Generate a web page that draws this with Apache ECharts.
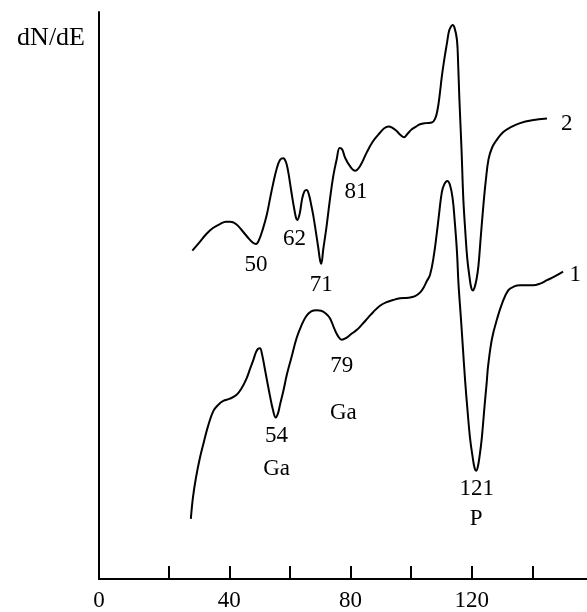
<!DOCTYPE html>
<html>
<head>
<meta charset="utf-8">
<script src="https://cdn.jsdelivr.net/npm/echarts@6/dist/echarts.min.js"></script>
<style>
html,body{margin:0;padding:0;background:#fff;}
#chart{width:587px;height:612px;}
</style>
</head>
<body>
<div id="chart"></div>
<script>
// Energy axis (eV) and arbitrary dN/dE values
// Curve 2 (upper)
var curve2X = [27.8, 30.0, 32.5, 34.6, 36.9, 38.9, 40.2, 42.2, 44.6, 46.5, 47.8, 48.8, 49.8, 51.1, 52.3, 53.4, 54.4, 55.6, 56.7, 57.8,
  58.7, 59.4, 60.0, 60.7, 61.4, 62.0, 62.4, 63.2, 64.0, 64.8, 65.5, 66.3, 67.0, 67.7, 68.5, 69.4, 69.9, 70.3,
  71.0, 72.1, 73.2, 74.3, 75.4, 76.4, 77.2, 78.2, 79.8, 81.5, 83.1, 85.3, 87.4, 89.7, 91.1, 92.5, 93.7, 95.2,
  96.3, 97.7, 98.6, 100.2, 101.6, 102.9, 104.9, 106.8, 107.9, 108.7, 109.4, 110.1, 110.9, 111.8, 112.5, 113.2,
  113.7, 114.3, 115.1, 115.5, 115.9, 116.6, 117.2, 117.9, 118.5, 119.3, 119.8, 120.3, 120.9, 121.6, 122.2,
  122.9, 123.8, 124.6, 125.5, 126.7, 128.3, 130.3, 132.6, 135.9, 139.9, 144.8];
var curve2Y = [57.9, 59.3, 60.9, 61.9, 62.6, 63.0, 63.0, 62.6, 61.2, 60.0, 59.3, 59.1, 59.8, 61.8, 64.1, 67.0, 69.6, 72.3, 73.9, 74.2,
  73.5, 71.9, 69.9, 67.5, 65.3, 63.7, 63.3, 64.4, 67.0, 68.4, 68.6, 67.7, 66.0, 64.1, 61.4, 58.2, 56.3, 55.6,
  58.2, 62.3, 67.0, 71.1, 74.0, 76.0, 75.8, 74.3, 72.8, 72.0, 72.8, 75.2, 77.2, 78.7, 79.5, 79.8, 79.6, 79.0,
  78.4, 77.9, 78.4, 79.3, 79.8, 80.2, 80.4, 80.5, 81.2, 82.8, 85.4, 88.6, 91.6, 94.5, 96.7, 97.5,
  97.7, 97.2, 95.1, 90.7, 84.6, 75.8, 67.0, 60.9, 56.5, 53.0, 51.4, 50.9, 51.4, 53.0, 55.3,
  60.0, 65.8, 70.2, 74.0, 76.1, 77.5, 78.8, 79.6, 80.4, 80.9, 81.2];

// Curve 1 (lower)
var curve1X = [27.3, 28.0, 29.0, 30.3, 31.7, 33.0, 34.7, 36.3, 38.0, 40.2, 42.4, 43.9, 45.7, 46.8, 47.9, 48.8, 49.5, 50.1,
  50.8, 51.6, 52.4, 53.4, 54.4, 55.3, 56.1, 56.7, 57.8, 59.0, 60.4, 62.2, 63.7, 65.3, 67.0, 68.8, 70.3,
  71.9, 73.2, 74.6, 75.9, 77.1, 78.5, 80.2, 82.0, 83.8, 85.8, 87.5, 89.7, 91.7, 94.0, 96.3, 99.0, 101.3,
  102.9, 104.3, 105.2, 106.2, 107.4, 108.5, 109.2, 110.1, 110.9, 111.9, 112.8, 113.7, 114.3, 115.1, 115.6,
  116.4, 117.1, 117.8, 118.6, 119.4, 120.3, 120.9, 121.4, 121.9, 122.6, 123.3, 124.2, 124.9, 125.4, 126.7,
  128.4, 130.0, 132.0, 134.0, 135.9, 140.2, 142.5, 144.8, 147.5, 150.1];
var curve1Y = [10.6, 14.4, 17.9, 21.4, 24.4, 27.0, 29.6, 30.7, 31.4, 31.8, 32.5, 33.5, 35.4, 37.0, 38.6, 40.0, 40.6, 40.7,
  39.6, 37.4, 35.1, 32.3, 29.8, 28.5, 29.3, 30.7, 33.1, 36.1, 38.9, 42.5, 44.6, 46.3, 47.2, 47.4, 47.3,
  46.8, 46.0, 44.2, 42.8, 42.2, 42.5, 43.2, 43.9, 44.9, 46.1, 47.1, 48.2, 48.8, 49.2, 49.5, 49.6, 49.9,
  50.5, 51.6, 52.6, 53.6, 56.8, 61.2, 64.4, 68.2, 69.6, 70.2, 69.5, 67.0, 63.5, 57.7, 52.1,
  46.0, 40.4, 34.9, 29.6, 24.9, 21.4, 19.6, 19.1, 19.6, 21.8, 24.9, 30.5, 34.6, 37.7, 42.5,
  46.0, 48.6, 50.9, 51.6, 51.8, 51.8, 52.1, 52.7, 53.4, 54.2];

// Annotations: text, energy, dN/dE level
var noteText = ['50', '62', '71', '81', '54', 'Ga', '79', 'Ga', '121', 'P', '2', '1'];
var noteX    = [48.8, 61.5, 70.3, 81.8, 55.6, 55.6, 77.1, 77.6, 121.6, 121.4, 151.3, 154.1];
var noteY    = [55.3, 60.0, 51.8, 68.2, 25.2, 19.4, 37.5, 29.3, 15.8, 10.6, 80.2, 53.6];

// Axis ticks and labels
var xTickValues = [20, 40, 60, 80, 100, 120, 140];
var xLabelValues = [-3, 40, 80, 120];
var xLabelTexts = ['0', '40', '80', '120'];
var yName = 'dN/dE';

function zip(a, b) { return a.map(function (v, i) { return [v, b[i]]; }); }

var font = 'Liberation Serif, Times New Roman, serif';
var ink = '#000';
var chart = echarts.init(document.getElementById('chart'), null, {renderer: 'canvas'});
chart.setOption({
  animation: false,
  backgroundColor: '#ffffff',
  grid: {left: 99, right: 0, top: 12, bottom: 30},
  xAxis: {
    type: 'value', min: -3, max: 158,
    axisLine: {show: true, onZero: false, lineStyle: {color: ink, width: 2}},
    axisTick: {show: true, inside: true, length: 13, customValues: xTickValues, lineStyle: {color: ink, width: 2}},
    axisLabel: {
      show: true, customValues: xLabelValues, margin: 10,
      fontFamily: font, fontSize: 23, color: ink,
      formatter: function (v) { var i = xLabelValues.indexOf(v); return i >= 0 ? xLabelTexts[i] : ''; }
    },
    splitLine: {show: false}
  },
  yAxis: {
    type: 'value', min: 0, max: 100,
    name: yName, nameLocation: 'end', nameGap: -26,
    nameTextStyle: {fontFamily: font, fontSize: 26, color: ink, align: 'right', verticalAlign: 'middle', padding: [0, 14, 0, 0]},
    axisLine: {show: true, onZero: false, lineStyle: {color: ink, width: 2}},
    axisTick: {show: false},
    axisLabel: {show: false},
    splitLine: {show: false}
  },
  series: [
    {type: 'line', data: zip(curve2X, curve2Y), smooth: 0.4, showSymbol: false, lineStyle: {color: ink, width: 2}},
    {type: 'line', data: zip(curve1X, curve1Y), smooth: 0.4, showSymbol: false, lineStyle: {color: ink, width: 2}},
    {
      type: 'scatter', symbolSize: 1, silent: true,
      itemStyle: {opacity: 1, color: 'rgba(0,0,0,0)'},
      data: noteText.map(function (t, i) { return {name: t, value: [noteX[i], noteY[i]]}; }),
      label: {show: true, position: 'inside', formatter: '{b}', fontFamily: font, fontSize: 23, color: ink, textBorderWidth: 0}
    }
  ]
});
</script>
</body>
</html>
